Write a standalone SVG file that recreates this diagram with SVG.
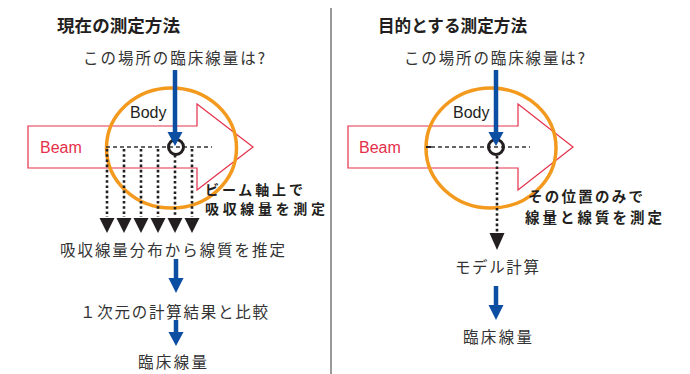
<svg xmlns="http://www.w3.org/2000/svg" width="690" height="374" viewBox="0 0 690 374">
<defs>
<style>
.t{font-family:"Noto Sans CJK JP","Noto Sans",sans-serif;fill:#333;font-size:15.5px}
.b{font-family:"Noto Sans CJK JP","Noto Sans",sans-serif;fill:#231f20;font-weight:bold}
.l{font-family:"Liberation Sans",Arial,sans-serif;font-size:16px}
.beam{fill:#fff;stroke:#e5304a;stroke-width:1.2}
.body{fill:none;stroke:#f39a1e;stroke-width:3.5}
.dash{stroke:#333;stroke-width:1.3;stroke-dasharray:4 3;fill:none}
.dot{stroke:#231f20;stroke-width:2.6;stroke-dasharray:2.6 2.6;fill:none}
.pt{fill:none;stroke:#231f20;stroke-width:3}
.blue{stroke:#0b4ea2;stroke-width:4.5;fill:none}
.bh{fill:#0b4ea2}
.tri{fill:#231f20}
</style>
</defs>
<line x1="331" y1="8" x2="331" y2="374" stroke="#999" stroke-width="2"/>
<g id="left-title"><text class="b" x="57" y="32" font-size="17" textLength="123" lengthAdjust="spacingAndGlyphs">現在の測定方法</text></g>
<g id="left-question"><text class="t" x="83" y="64" textLength="182">この場所の臨床線量は?</text></g>
<g id="left-beam"><polygon class="beam" points="28,126 197,126 197,104 253,147 197,190 197,168 28,168"/><text class="l" x="40" y="153" fill="#e5304a" font-size="16.5">Beam</text></g>
<g id="left-body"><ellipse class="body" cx="171.5" cy="148" rx="65" ry="60"/><text class="l" x="130" y="117.5" fill="#231f20" font-size="15.5">Body</text></g>
<g id="left-lines">
<line class="dash" x1="106" y1="147" x2="212" y2="147"/>
<g class="dot">
<line x1="107" y1="149" x2="107" y2="217"/>
<line x1="124" y1="149" x2="124" y2="217"/>
<line x1="141" y1="149" x2="141" y2="217"/>
<line x1="158" y1="149" x2="158" y2="217"/>
<line x1="175" y1="155" x2="175" y2="217"/>
<line x1="192" y1="149" x2="192" y2="217"/>
</g>
<g class="tri">
<polygon points="99.5,218 114.5,218 107,233"/>
<polygon points="116.5,218 131.5,218 124,233"/>
<polygon points="133.5,218 148.5,218 141,233"/>
<polygon points="150.5,218 165.5,218 158,233"/>
<polygon points="167.5,218 182.5,218 175,233"/>
<polygon points="184.5,218 199.5,218 192,233"/>
</g>
</g>
<g id="left-point"><circle class="pt" cx="176" cy="147" r="7.5"/></g>
<g id="left-note"><text class="b" x="205" y="194.5" font-size="14" textLength="98">ビーム軸上で</text><text class="b" x="205" y="214" font-size="14" textLength="120">吸収線量を測定</text></g>
<g id="left-step1"><text class="t" x="60" y="255.5" textLength="225">吸収線量分布から線質を推定</text></g>
<g id="left-step2"><text class="t" x="80" y="317.5" textLength="188">１次元の計算結果と比較</text></g>
<g id="left-step3"><text class="t" x="138" y="367.5" textLength="69">臨床線量</text></g>
<g id="right-title"><text class="b" x="378" y="32" font-size="17" textLength="149" lengthAdjust="spacingAndGlyphs">目的とする測定方法</text></g>
<g id="right-question"><text class="t" x="404" y="64" textLength="181">この場所の臨床線量は?</text></g>
<g id="right-beam"><polygon class="beam" points="348,126 518,126 518,104 573,147 518,190 518,168 348,168"/><text class="l" x="359" y="153" fill="#e5304a" font-size="16.5">Beam</text></g>
<g id="right-body"><ellipse class="body" cx="491" cy="148" rx="65" ry="60"/><text class="l" x="453" y="117.5" fill="#231f20" font-size="15.5">Body</text></g>
<g id="right-lines">
<line class="dash" x1="431" y1="147" x2="530" y2="147"/>
<line x1="426" y1="147" x2="431" y2="147" stroke="#231f20" stroke-width="2"/>
<line class="dot" x1="497" y1="156" x2="497" y2="233"/>
<polygon class="tri" points="489.5,233 504.5,233 497,250"/>
</g>
<g id="right-point"><circle class="pt" cx="496" cy="147" r="7.5"/></g>
<g id="right-note"><text class="b" x="528" y="202" font-size="14.5" textLength="115">その位置のみで</text><text class="b" x="525" y="222.5" font-size="14.5" textLength="137">線量と線質を測定</text></g>
<g id="right-step1"><text class="t" x="455" y="272.5" textLength="84">モデル計算</text></g>
<g id="right-step2"><text class="t" x="463" y="342.5" textLength="69">臨床線量</text></g>
<g id="connectors">
<line class="blue" x1="175" y1="70" x2="175" y2="133"/><polygon class="bh" points="167.5,132 182.5,132 175,146"/>
<line class="blue" x1="176" y1="259" x2="176" y2="279"/><polygon class="bh" points="168.5,278 183.5,278 176,293"/>
<line class="blue" x1="176" y1="320" x2="176" y2="333"/><polygon class="bh" points="168.5,332 183.5,332 176,346"/>
<line class="blue" x1="496" y1="70" x2="496" y2="133"/><polygon class="bh" points="488.5,132 503.5,132 496,146"/>
<line class="blue" x1="496" y1="286" x2="496" y2="306"/><polygon class="bh" points="488.5,305 503.5,305 496,320"/>
</g>
</svg>
